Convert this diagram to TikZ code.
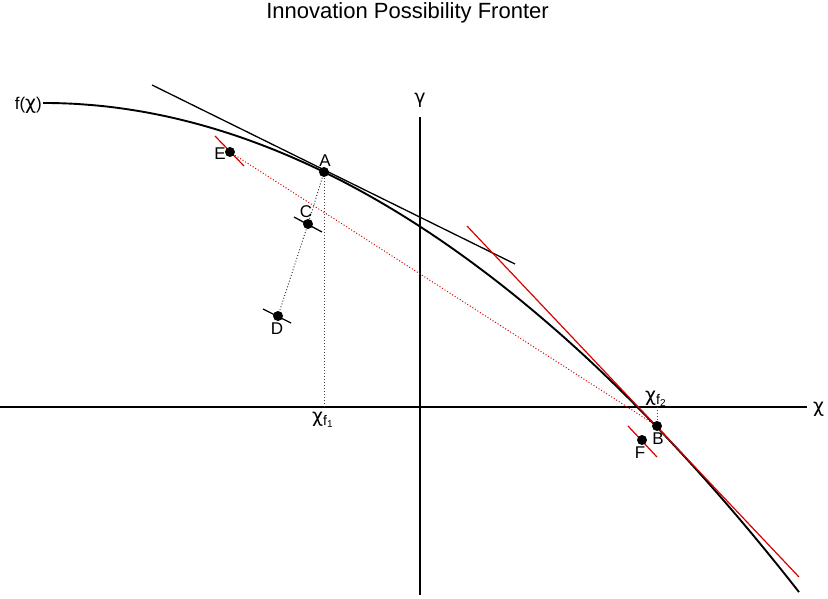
\documentclass[tikz,border=0pt]{standalone}
\usepackage{fontspec}
\setmainfont{Liberation Sans}
\newfontfamily\gkfont{DejaVu Sans}
\newcommand{\gk}[1]{{\gkfont\fontsize{19}{19}\selectfont #1}}
\newcommand{\chisub}[1]{\gk{χ}\raisebox{-3pt}{\fontsize{14}{14}\selectfont f\raisebox{-2.5pt}{\fontsize{10}{10}\selectfont #1}}}
\begin{document}
\begin{tikzpicture}[x=1pt,y=-1pt,
  lbl/.style={font=\fontsize{17}{17}\selectfont, inner sep=0pt},
  ttl/.style={font=\fontsize{22}{22}\selectfont, inner sep=0pt},
  dotpt/.style={circle, fill=black, inner sep=0pt, minimum size=10pt},
  maincurve/.style={line width=1.9pt, line join=round},
  axisline/.style={line width=1.1pt},
  blk/.style={line width=1.3pt},
  redl/.style={color=red!85!black, line width=1.2pt},
  dotblk/.style={black!75, line width=1pt, dotted},
  dotred/.style={red!85!black, line width=1pt, dotted}]
\useasboundingbox (0,0) rectangle (828,599);
% title
\node[ttl] (title) at (407.5,13) {Innovation Possibility Fronter};
% axes
\coordinate (xl) at (0,407);
\coordinate (xr) at (807,407);
\coordinate (yt) at (420,117);
\coordinate (yb) at (420,595);
\draw[axisline] (xl) -- (xr);
\draw[axisline] (yt) -- (yb);
\node[lbl, anchor=base] (chi) at (818.5,412.6) {\gk{χ}};
\node[lbl, anchor=base] (gam) at (420,103.6) {\gk{γ}};
% points
\coordinate (Ac) at (324,172);
\coordinate (Bc) at (657,426);
\coordinate (Cc) at (308,224);
\coordinate (Dc) at (278,316);
\coordinate (Ec) at (230,152);
\coordinate (Fc) at (642,440);
\coordinate (xf1) at (324,407);
\coordinate (xf2) at (657,407);
% dotted lines (behind points)
\draw[dotblk] (Ac) -- (xf1);
\draw[dotblk] (Bc) -- (xf2);
\draw[dotblk] (Ac) -- (Cc) -- (Dc);
\draw[dotred] (Ec) -- (Bc);
% curve
\draw[maincurve] (43,103) -- plot[domain=46:799, samples=120, smooth] (\x, {103+69*pow((\x-45)/279,1.97)});
\node[lbl, anchor=base east] (flab) at (42,109.6) {f(\gk{χ})};
% tangent at A
\coordinate (tA1) at (152,85);
\coordinate (tA2) at (515,264);
\draw[blk] (tA1) -- (tA2);
% red tangent at B
\coordinate (tB1) at (467,226);
\coordinate (tB2) at (799,577);
\draw[redl] (tB1) -- (tB2);
% short segments
\coordinate (e1) at (215,136); \coordinate (e2) at (244,166);
\draw[redl] (e1) -- (e2);
\coordinate (f1) at (628,426); \coordinate (f2) at (657,457);
\draw[redl] (f1) -- (f2);
\coordinate (c1) at (294,217); \coordinate (c2) at (322,232);
\draw[blk] (c1) -- (c2);
\coordinate (d1) at (263,309); \coordinate (d2) at (291,323);
\draw[blk] (d1) -- (d2);
% dots
\node[dotpt] (A) at (Ac) {};
\node[dotpt] (B) at (Bc) {};
\node[dotpt] (C) at (Cc) {};
\node[dotpt] (D) at (Dc) {};
\node[dotpt] (E) at (Ec) {};
\node[dotpt] (F) at (Fc) {};
% labels
\node[lbl] (Al) at (325,161) {A};
\node[lbl] (Bl) at (658,439) {B};
\node[lbl] (Cl) at (306,212) {C};
\node[lbl] (Dl) at (277,329) {D};
\node[lbl] (El) at (220,154) {E};
\node[lbl] (Fl) at (640,453) {F};
\node[lbl, anchor=base west] (xf1l) at (312,422) {\chisub{1}};
\node[lbl, anchor=base west] (xf2l) at (645,401) {\chisub{2}};
\end{tikzpicture}
\end{document}
